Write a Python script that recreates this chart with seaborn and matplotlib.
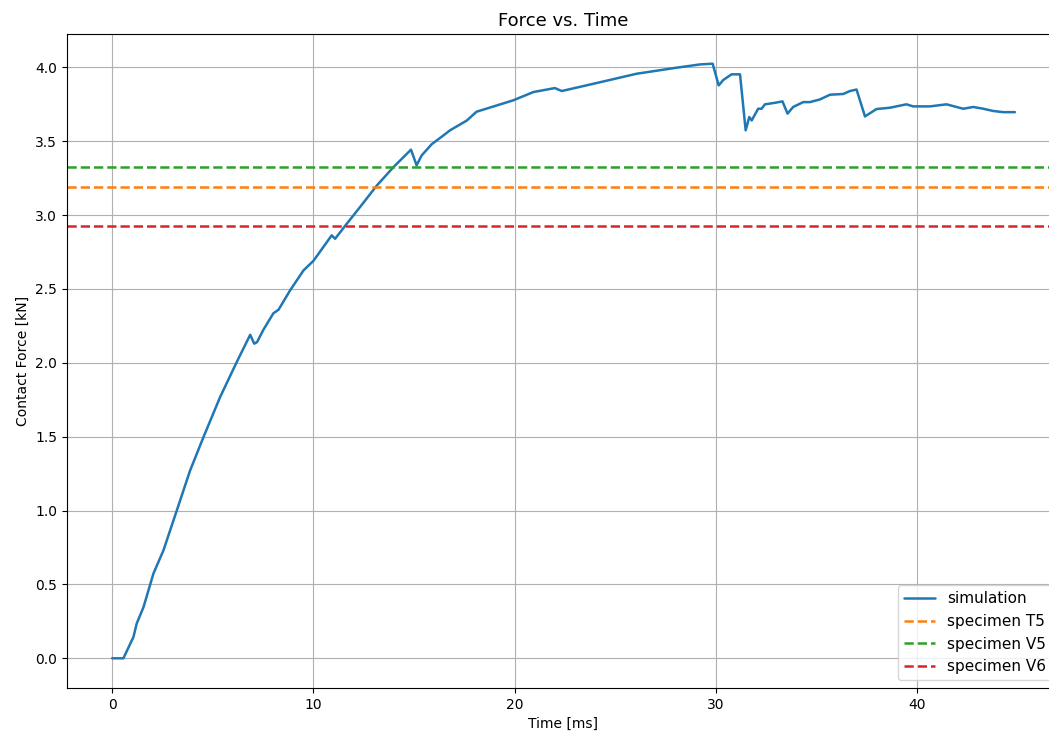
import matplotlib
matplotlib.use("Agg")
import matplotlib.pyplot as plt
import seaborn as sns
import pandas as pd

time_ms = [0.0, 0.56, 1.06, 1.22, 1.56, 2.05, 2.55, 3.21, 3.87, 4.54, 5.37, 6.19, 6.86,
           7.06, 7.2, 7.52, 8.01, 8.27, 8.84, 9.51, 10.0, 10.91, 11.08, 11.65, 12.32,
           13.15, 13.98, 14.85, 15.13, 15.38, 15.88, 16.37, 16.79, 17.62, 18.11, 19.93,
           20.93, 22.0, 22.34, 24.07, 26.06, 28.05, 29.21, 29.84, 30.14, 30.37, 30.78,
           31.2, 31.48, 31.66, 31.78, 32.1, 32.27, 32.44, 32.93, 33.31, 33.56, 33.84,
           34.34, 34.67, 35.17, 35.67, 36.33, 36.66, 36.99, 37.41, 37.98, 38.65, 39.47,
           39.8, 40.64, 41.46, 42.29, 42.79, 43.29, 43.78, 44.28, 44.86]
force_kn = [0.0, 0.0, 0.145, 0.235, 0.347, 0.573, 0.731, 1.0, 1.27, 1.498, 1.77, 2.005, 2.19,
            2.13, 2.14, 2.225, 2.335, 2.36, 2.49, 2.626, 2.69, 2.863, 2.84, 2.94, 3.055,
            3.2, 3.325, 3.443, 3.337, 3.404, 3.48, 3.53, 3.574, 3.64, 3.70, 3.777,
            3.833, 3.86, 3.84, 3.894, 3.957, 3.998, 4.02, 4.025, 3.878, 3.915, 3.953,
            3.953, 3.574, 3.664, 3.641, 3.72, 3.72, 3.75, 3.76, 3.77, 3.687, 3.732,
            3.765, 3.765, 3.783, 3.815, 3.82, 3.84, 3.85, 3.668, 3.718, 3.727, 3.75,
            3.736, 3.736, 3.75, 3.72, 3.732, 3.72, 3.705, 3.697, 3.697]

specimen_names = ["specimen T5", "specimen V5", "specimen V6"]
specimen_forces = [3.19, 3.325, 2.924]
specimen_colors = ["#ff7f0e", "#2ca02c", "#d62728"]

sns.set_style("white")
plt.rcParams['font.family'] = ['DejaVu Sans']
plt.rcParams['text.color'] = 'black'
plt.rcParams['axes.labelcolor'] = 'black'
plt.rcParams['xtick.color'] = 'black'
plt.rcParams['ytick.color'] = 'black'

fig = plt.figure(figsize=(10.49, 7.33), dpi=100)
ax = fig.add_axes([67/1049, 1 - 688/733, (1060 - 67)/1049, (688 - 34)/733])

df = pd.DataFrame({"Time [ms]": time_ms, "Contact Force [kN]": force_kn})
sns.lineplot(data=df, x="Time [ms]", y="Contact Force [kN]", ax=ax,
             color="#1f77b4", linewidth=1.8, label="simulation")
for name, val, col in zip(specimen_names, specimen_forces, specimen_colors):
    ax.axhline(val, color=col, linestyle="--", linewidth=1.8, label=name)

ax.set_xlim(-2.243, 47.10)
ax.set_ylim(-0.201, 4.226)
ax.set_xticks([0, 10, 20, 30, 40])
ax.set_yticks([0.0, 0.5, 1.0, 1.5, 2.0, 2.5, 3.0, 3.5, 4.0])
ax.set_yticklabels([f"{v:.1f}" for v in [0.0, 0.5, 1.0, 1.5, 2.0, 2.5, 3.0, 3.5, 4.0]])
ax.grid(True, color="#b0b0b0", linewidth=0.8)
ax.tick_params(axis="both", which="both", length=3.5, width=0.8, direction="out",
               bottom=True, left=True, labelsize=10, colors="black")
for s in ax.spines.values():
    s.set_color("black")
    s.set_linewidth(0.8)
ax.set_title("Force vs. Time", fontsize=13, color="black")
ax.set_xlabel("Time [ms]", fontsize=10)
ax.set_ylabel("Contact Force [kN]", fontsize=10)
ax.legend(loc="lower right", fontsize=11)

fig.savefig("out.png", dpi=100)
